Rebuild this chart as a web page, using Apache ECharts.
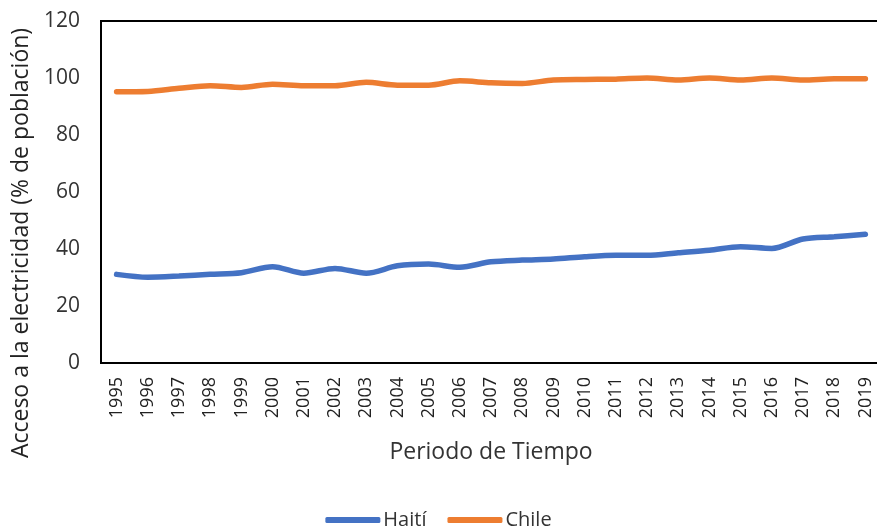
<!DOCTYPE html>
<html>
<head>
<meta charset="utf-8">
<script src="https://cdn.jsdelivr.net/npm/echarts@6/dist/echarts.min.js"></script>
<style>
  html, body { margin: 0; padding: 0; background: #fff; }
  #chart { width: 877px; height: 531px; }
</style>
</head>
<body>
<div id="chart"></div>
<script>
// Access to electricity (% of population), 1995–2019
const years = ['1995','1996','1997','1998','1999','2000','2001','2002','2003','2004','2005','2006',
  '2007','2008','2009','2010','2011','2012','2013','2014','2015','2016','2017','2018','2019'];
const haiti = [31.1, 30.1, 30.5, 31.1, 31.7, 33.8, 31.5, 33.2, 31.5, 34.1, 34.7, 33.6,
  35.5, 36.1, 36.5, 37.3, 37.8, 37.8, 38.7, 39.6, 40.8, 40.2, 43.5, 44.3, 45.2];
const chile = [95.2, 95.3, 96.4, 97.3, 96.7, 97.8, 97.3, 97.3, 98.5, 97.5, 97.5, 99.0,
  98.3, 98.1, 99.3, 99.5, 99.6, 100, 99.3, 100, 99.3, 100, 99.3, 99.7, 99.7];
const yTicks = [0, 20, 40, 60, 80, 100, 120];

const FONT = 'Open Sans';
const chart = echarts.init(document.getElementById('chart'), null, { renderer: 'canvas' });

chart.setOption({
  animation: false,
  textStyle: { fontFamily: FONT, color: '#333' },
  grid: {
    left: 101, top: 21, width: 780, height: 342,
    outerBoundsMode: 'none',
    containLabel: false,
    show: true, borderColor: '#000', borderWidth: 2, backgroundColor: 'transparent'
  },
  xAxis: {
    type: 'category',
    data: years,
    boundaryGap: true,
    name: 'Periodo de Tiempo',
    nameLocation: 'middle',
    nameGap: 78,
    nameTextStyle: { fontFamily: FONT, fontSize: 23, color: '#333' },
    axisLine: { lineStyle: { color: '#000', width: 2 } },
    axisTick: { show: false },
    axisLabel: { rotate: 90, fontFamily: FONT, fontSize: 18, color: '#222', margin: 14, interval: 0 }
  },
  yAxis: {
    type: 'value',
    min: yTicks[0],
    max: yTicks[yTicks.length - 1],
    interval: 20,
    name: 'Acceso a la electricidad (% de población)',
    nameLocation: 'middle',
    nameGap: 68,
    nameTextStyle: { fontFamily: FONT, fontSize: 23, color: '#222', padding: [0, 102, 0, 0] },
    axisLine: { show: true, lineStyle: { color: '#000', width: 2 } },
    axisTick: { show: false },
    splitLine: { show: false },
    axisLabel: { fontFamily: FONT, fontSize: 21, color: '#333', margin: 21 }
  },
  legend: {
    top: 505,
    left: 'center',
    icon: 'roundRect',
    itemWidth: 55,
    itemHeight: 6,
    itemGap: 21,
    textStyle: { fontFamily: FONT, fontSize: 20, color: '#333', padding: [0, 0, 0, -2] },
    data: ['Haití', 'Chile']
  },
  series: [
    {
      name: 'Haití', type: 'line', data: haiti, smooth: 0.3, symbol: 'none',
      lineStyle: { color: '#4472C4', width: 5.5, cap: 'round' }, itemStyle: { color: '#4472C4' }
    },
    {
      name: 'Chile', type: 'line', data: chile, smooth: 0.3, symbol: 'none',
      lineStyle: { color: '#ED7D31', width: 5.5, cap: 'round' }, itemStyle: { color: '#ED7D31' }
    }
  ]
});
</script>
</body>
</html>
